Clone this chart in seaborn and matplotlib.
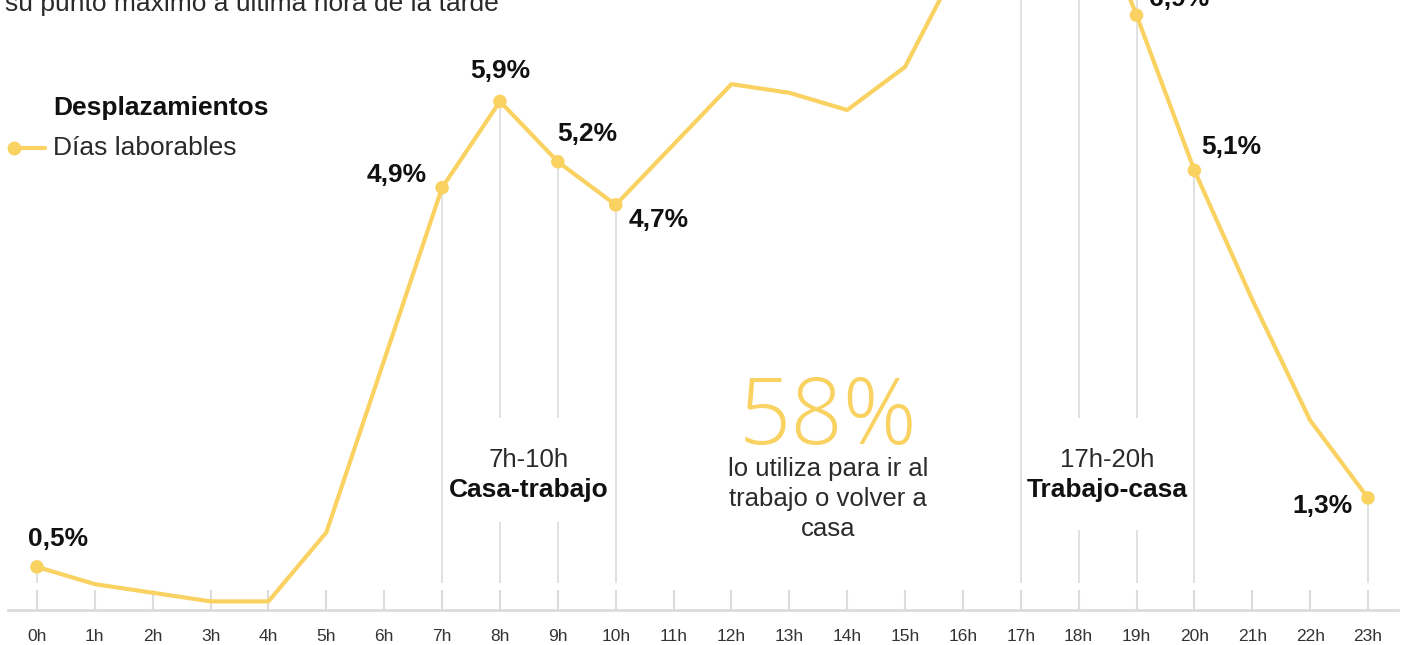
import matplotlib
matplotlib.use("Agg")
import matplotlib.pyplot as plt
from matplotlib.lines import Line2D
import seaborn as sns
import pandas as pd

# ---------------- data ----------------
hour_labels = [f"{h}h" for h in range(24)]
hours = list(range(24))
share = [0.5, 0.3, 0.2, 0.1, 0.1, 0.9, 2.9, 4.9, 5.9, 5.2, 4.7, 5.4,
         6.1, 6.0, 5.8, 6.3, 7.6, 8.5, 8.6, 6.9, 5.1, 3.6, 2.2, 1.3]
labeled_hours = [0, 7, 8, 9, 10, 19, 20, 23]
label_text = ["0,5%", "4,9%", "5,9%", "5,2%", "4,7%", "6,9%", "5,1%", "1,3%"]
series_name = "Días laborables"
legend_title = "Desplazamientos"
subtitle_tail = "su punto máximo a última hora de la tarde"
windows = [("7h-10h", "Casa-trabajo", 8.5), ("17h-20h", "Trabajo-casa", 18.5)]
big_number = "58%"
big_text = "lo utiliza para ir al\ntrabajo o volver a\ncasa"

df = pd.DataFrame({"hour": hours, "share": share})
pts = df[df["hour"].isin(labeled_hours)].reset_index(drop=True)
pts["label"] = label_text

# ---------------- style ----------------
YEL = "#F9D262"
GRID = "#DCDCDC"
INK = "#111111"
SOFT = "#2a2a2a"
sns.set_theme(style="white")
plt.rcParams["font.family"] = ["Liberation Sans", "DejaVu Sans"]

W, H = 1407, 645
fig = plt.figure(figsize=(W / 100, H / 100), dpi=100)
x0_px, x1_px, base_px = 8, 1398, 610
ax = fig.add_axes([x0_px / W, (H - base_px) / H, (x1_px - x0_px) / W, base_px / H])
px_per_h = (1368 - 37) / 23
px_per_pct = 86.2
ax.set_xlim(-(37 - x0_px) / px_per_h, 23 + (x1_px - 1368) / px_per_h)
ytop = base_px / px_per_pct
ax.set_ylim(0, ytop)

# guide lines from points down to the axis
vbottom = 0.31
gap_top = 2.23
for h, v in zip(pts["hour"], pts["share"]):
    if h in (8, 9):
        ax.vlines(h, gap_top, v, color=GRID, lw=1.2, zorder=1)
        ax.vlines(h, vbottom, 1.02, color=GRID, lw=1.2, zorder=1)
    elif h == 19:
        ax.vlines(h, gap_top, ytop, color=GRID, lw=1.2, zorder=1)
        ax.vlines(h, vbottom, 0.93, color=GRID, lw=1.2, zorder=1)
    else:
        ax.vlines(h, vbottom, v, color=GRID, lw=1.2, zorder=1)
ax.vlines(17, vbottom, ytop, color=GRID, lw=1.2, zorder=1)
ax.vlines(18, gap_top, ytop, color=GRID, lw=1.2, zorder=1)
ax.vlines(18, vbottom, 0.93, color=GRID, lw=1.2, zorder=1)

sns.lineplot(data=df, x="hour", y="share", color=YEL, lw=3.0, ax=ax,
             zorder=3, legend=False)
sns.scatterplot(data=pts, x="hour", y="share", color=YEL, s=95,
                edgecolor="none", ax=ax, zorder=4, legend=False)

# value labels
offsets = {0: (15, 20, "center"), 7: (-11, 9, "right"), 8: (0, 22, "center"),
           9: (21, 20, "center"), 10: (9, -11, "left"), 19: (9, 12, "left"),
           20: (5, 17, "left"), 23: (-11, -6, "right")}
for h, v, t in zip(pts["hour"], pts["share"], pts["label"]):
    dx, dy, ha = offsets[h]
    ax.annotate(t, (h, v), xytext=(dx, dy), textcoords="offset points",
                ha=ha, va="center", fontsize=19, fontweight="bold",
                color=INK, zorder=5)

# time windows
for rng, name, xc in windows:
    ax.text(xc, 1.74, rng, ha="center", va="center", fontsize=18.5,
            color=SOFT)
    ax.text(xc, 1.39, name, ha="center", va="center", fontsize=19,
            fontweight="bold", color=INK)

# big number
ax.text(13.67, 2.2, big_number, ha="center", va="center", fontsize=66,
        color=YEL, family=["Open Sans", "DejaVu Sans"], fontweight="light")
ax.text(13.67, 1.29, big_text, ha="center", va="center", fontsize=18.5,
        color=SOFT, linespacing=1.3)

# axes styling
sns.despine(ax=ax, left=True, top=True, right=True)
ax.spines["bottom"].set_color(GRID)
ax.spines["bottom"].set_linewidth(2)
ax.set_xticks(hours)
ax.set_xticklabels(hour_labels)
ax.set_yticks([])
ax.tick_params(axis="x", bottom=True, direction="in", length=14.5, width=1.5,
               color=GRID, pad=14, labelsize=12.5, labelcolor="#333333")
ax.set_xlabel("")
ax.set_ylabel("")

# subtitle tail (cut at top)
fig.text(5 / W, 1 - 11 / H, subtitle_tail, ha="left", va="baseline",
         fontsize=19, color=SOFT)

# legend
fig.text(53 / W, 1 - 108 / H, legend_title, ha="left", va="center",
         fontsize=19, fontweight="bold", color=INK)
fig.text(53 / W, 1 - 148 / H, series_name, ha="left", va="center",
         fontsize=19, color=SOFT)
fig.add_artist(Line2D([14 / W, 45 / W], [1 - 148 / H, 1 - 148 / H],
                      transform=fig.transFigure, color=YEL, lw=3.0))
fig.add_artist(Line2D([14 / W], [1 - 148 / H], transform=fig.transFigure,
                      color=YEL, marker="o", markersize=10, markeredgewidth=0,
                      linestyle="none"))

fig.savefig("out.png", dpi=100, facecolor="white")
